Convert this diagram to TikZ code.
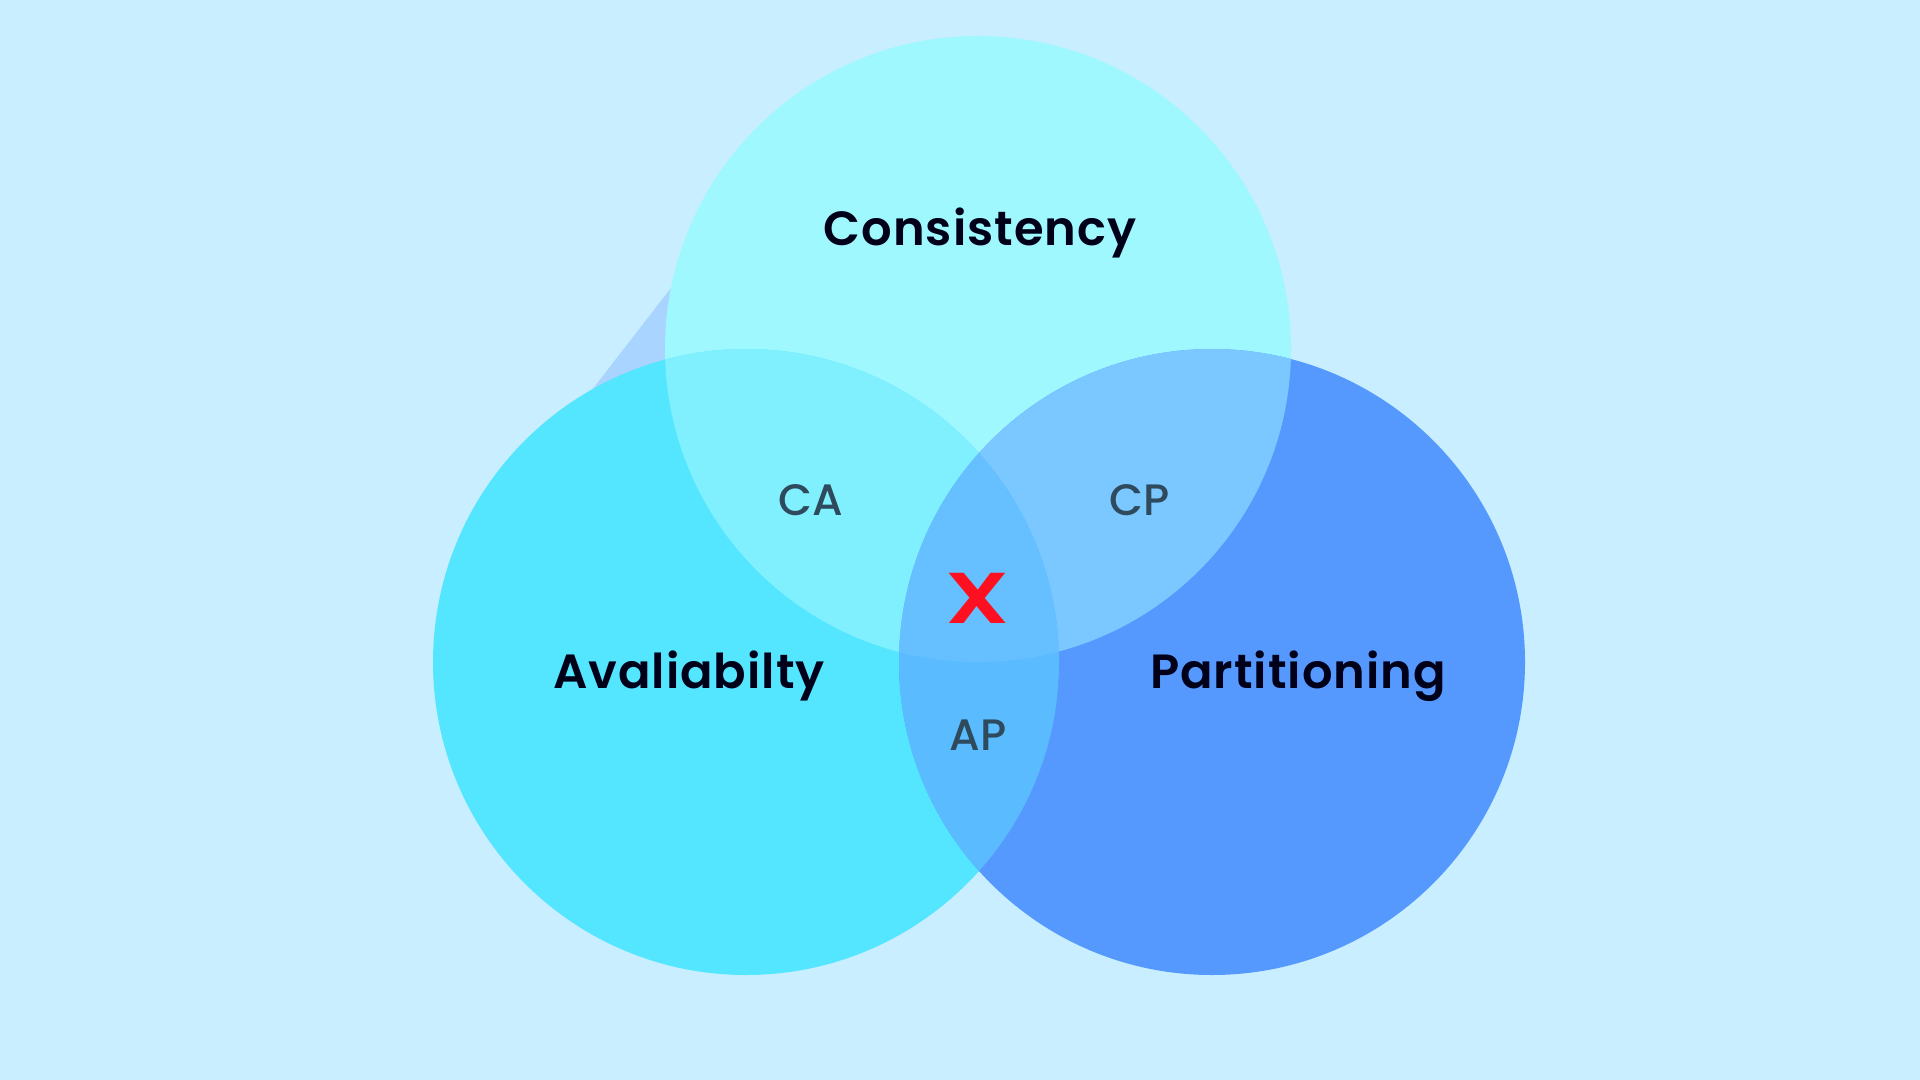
\documentclass[tikz,border=0pt]{standalone}
\usepackage{graphicx}
\usepackage{fontspec}
\setmainfont{Poppins}
\newfontfamily\popsemi{Poppins SemiBold}[LetterSpace=2]
\newfontfamily\popmed{Poppins Medium}
\begin{document}
\begin{tikzpicture}[x=0.5pt,y=-0.5pt,
  biglabel/.style={font=\fontsize{24}{28}\popsemi, text=black!90!blue},
  smalllabel/.style={font=\fontsize{22}{26}\popmed, text=smalltxt},
  xmark/.style={font=\fontsize{36}{40}\popsemi, text=xred}]
\definecolor{bg}{HTML}{C8EEFF}
\definecolor{artif}{HTML}{A8D4FF}
\definecolor{ccol}{HTML}{A0F8FF}
\definecolor{acol}{HTML}{55E6FF}
\definecolor{pcol}{HTML}{5599FF}
\definecolor{cacol}{HTML}{80F0FF}
\definecolor{cpcol}{HTML}{7AC8FF}
\definecolor{apcol}{HTML}{5ABCFF}
\definecolor{capcol}{HTML}{66C0FF}
\definecolor{smalltxt}{HTML}{2E4A5C}
\definecolor{xred}{HTML}{FF1020}
\fill[bg] (0,0) rectangle (1920,1080);
\useasboundingbox (0,0) rectangle (1920,1080);
\coordinate (cc) at (978,349);
\coordinate (ac) at (746,662);
\coordinate (pc) at (1212,662);
\def\R{156.5pt}
% shadow artifact
\fill[artif] (671,288) -- (588,395) -- (700,395) -- cycle;
% circles
\fill[ccol] (cc) circle (\R);
\fill[acol] (ac) circle (\R);
\fill[pcol] (pc) circle (\R);
% overlaps
\begin{scope}
  \clip (cc) circle (\R);
  \fill[cacol] (ac) circle (\R);
  \fill[cpcol] (pc) circle (\R);
\end{scope}
\begin{scope}
  \clip (ac) circle (\R);
  \fill[apcol] (pc) circle (\R);
  \clip (cc) circle (\R);
  \fill[capcol] (pc) circle (\R);
\end{scope}
% labels
\node[biglabel] (cons) at (980,233) {Consistency};
\node[biglabel] (avail) at (689,676) {Avaliabilty};
\node[biglabel] (part) at (1298,676) {Partitioning};
\node[smalllabel] (ca) at (811,500) {CA};
\node[smalllabel] (cp) at (1140,500) {CP};
\node[smalllabel] (ap) at (978,735) {AP};
\node[xmark] (x) at (978,598) {\scalebox{1.3}[1]{X}};
\end{tikzpicture}
\end{document}
